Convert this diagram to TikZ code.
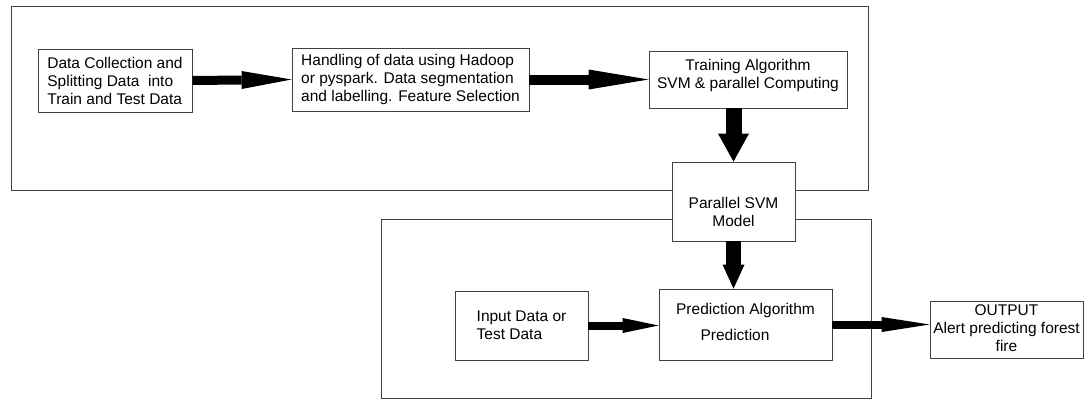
\documentclass[tikz,border=0pt]{standalone}
\usepackage{fontspec}
\setmainfont{Liberation Sans}
\usetikzlibrary{arrows.meta}

\tikzset{
  block/.style={draw=black!75, line width=0.8pt, fill=white, inner sep=0pt,
    font=\fontsize{15.5}{18}\selectfont},
  frame/.style={draw=black!75, line width=0.8pt},
  flow/.style n args={3}{line width=#1,
    -{Triangle[length=#2, width=#3, line width=0pt]}}
}

\begin{document}
\begin{tikzpicture}[x=1pt,y=-1pt]
\useasboundingbox (0,0) rectangle (1085,400);
\draw[frame] (11,6) rectangle (868,190.5);
\draw[frame] (381,219) rectangle (871.5,398.5);
\node[block, minimum width=154pt, minimum height=63pt, align=left] (collect) at (115,80.5)
  {Data Collection and\\Splitting Data\ \ into\\Train and Test Data};
\node[block, minimum width=237pt, minimum height=63pt, align=left] (handle) at (410.5,79.5)
  {Handling of data using Hadoop\\or pyspark. Data segmentation\\and labelling. Feature Selection};
\node[block, minimum width=198pt, minimum height=57pt, align=center] (train) at (748,79.5)
  {Training Algorithm\\SVM \& parallel Computing\\[-6pt]};
\node[block, minimum width=123pt, minimum height=79pt, align=center] (psvm) at (733.5,201.5)
  {\\[15pt]Parallel SVM\\Model};
\node[block, minimum width=133pt, minimum height=69pt, align=left] (input) at (521.5,325.5)
  {Input Data or\\Test Data};
\node[block, minimum width=173pt, minimum height=71pt, align=center] (predict) at (745.5,324.5)
  {Prediction Algorithm\\[8pt]Prediction\rule{21pt}{0pt}\\[-12pt]};
\node[block, minimum width=153pt, minimum height=57pt, align=center] (output) at (1006.5,329.5)
  {\\[-10pt]OUTPUT\\Alert predicting forest\\fire};
\draw[flow={9pt}{50pt}{18pt}] (collect.east) -- (handle.west);
\draw[flow={10pt}{60pt}{20pt}] (handle.east) -- (train.west);
\draw[flow={16pt}{28pt}{31pt}] (train.south -| psvm.north) -- (psvm.north);
\draw[flow={15pt}{24pt}{22pt}] (psvm.south) -- (psvm.south |- predict.north);
\draw[flow={8pt}{36pt}{15pt}] (input.east) -- (input.east -| predict.west);
\draw[flow={8pt}{48pt}{15pt}] (predict.east) -- (predict.east -| output.west);
\end{tikzpicture}
\end{document}
